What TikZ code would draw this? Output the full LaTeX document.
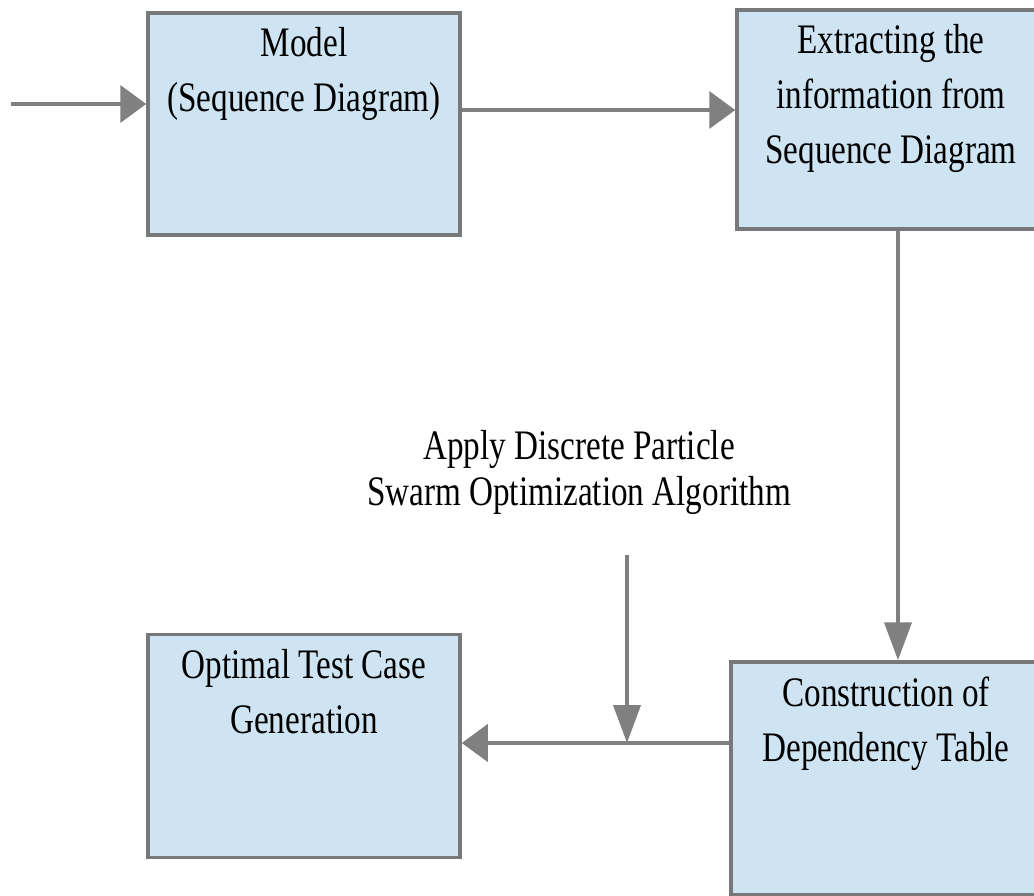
\documentclass[tikz,border=0pt]{standalone}
\usepackage{fontspec}
\setmainfont{Liberation Serif}[FakeStretch=0.79]
\usetikzlibrary{arrows.meta}
\definecolor{boxfill}{RGB}{207,228,242}
\definecolor{boxline}{RGB}{118,120,122}
\definecolor{flowline}{RGB}{128,128,128}

\begin{document}
\begin{tikzpicture}[x=1pt,y=-1pt,
  blk/.style={draw=boxline,line width=3.5pt,fill=boxfill,inner sep=0pt},
  txt/.style={align=center,inner sep=0pt,anchor=north,yshift=-16pt,
    font=\fontsize{42}{55}\selectfont},
  harrow/.style={draw=flowline,line width=4pt,-{Triangle[length=26pt,width=37pt]}},
  varrow/.style={draw=flowline,line width=4pt,-{Triangle[length=38pt,width=27pt]}}]
\useasboundingbox (0,0) rectangle (1034,896);
\clip (0,0) rectangle (1034,896);
% blocks
\node[blk,minimum width=312pt,minimum height=222pt] (model) at (304,124) {};
\node[blk,minimum width=308pt,minimum height=219pt] (extract) at (891,119.5) {};
\node[blk,minimum width=310pt,minimum height=233pt] (deptab) at (886,778.5) {};
\node[blk,minimum width=312pt,minimum height=223pt] (optgen) at (304,746) {};
\node[txt] (modeltxt) at (model.north) {Model\\(Sequence Diagram)};
\node[txt] (extracttxt) at (extract.north) {Extracting the\\information from\\Sequence Diagram};
\node[txt] (deptabtxt) at (deptab.north) {Construction of\\Dependency Table};
\node[txt] (optgentxt) at (optgen.north) {Optimal Test Case\\Generation};
\node[align=center,inner sep=0pt,font=\fontsize{42}{46}\selectfont] (dpso) at (579,472)
  {Apply Discrete Particle\\Swarm Optimization Algorithm};
% connectors
\coordinate (in) at (11,104);
\coordinate (down) at (898,0);
\coordinate (join) at (627,743);
\coordinate (dpsotop) at (627,555);
\draw[harrow] (in) -- (in -| model.west);
\draw[harrow] (model.east |- 0,110) -- (extract.west |- 0,110);
\draw[varrow] (down |- extract.south) -- (down |- deptab.north);
\draw[harrow] (deptab.west |- join) -- (optgen.east |- join);
\draw[varrow] (dpsotop) -- (join);
\end{tikzpicture}
\end{document}
